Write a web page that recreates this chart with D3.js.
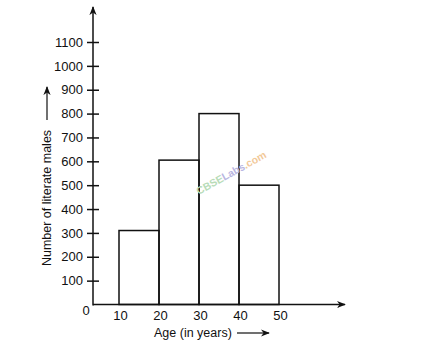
<!DOCTYPE html>
<html><head><meta charset="utf-8">
<script src="https://cdn.jsdelivr.net/npm/d3@7"></script>
<style>
body{margin:0;background:#fff;}
svg{display:block;font-family:"Liberation Sans",Arial,sans-serif;}
</style></head>
<body>
<svg id="c" width="440" height="353"></svg>
<script>
const ageEdges = [10, 20, 30, 40, 50];
const classStart = [10, 20, 30, 40];
const classEnd = [20, 30, 40, 50];
const literateMales = [310, 605, 800, 500];
const yTicks = [100, 200, 300, 400, 500, 600, 700, 800, 900, 1000, 1100];
const xTickLabels = ["10", "20", "30", "40", "50"];

const svg = d3.select("#c");
const originX = 93, originY = 304.5;
const x = d3.scaleLinear().domain([10, 50]).range([119, 279]);
const y = d3.scaleLinear().domain([0, 1100]).range([originY, 42]);

const defs = svg.append("defs");
defs.append("marker").attr("id","ah").attr("viewBox","0 0 10 10").attr("refX",9).attr("refY",5)
  .attr("markerWidth",9).attr("markerHeight",9).attr("markerUnits","userSpaceOnUse").attr("orient","auto")
  .append("path").attr("d","M0,1 L10,5 L0,9 L3,5 Z").attr("fill","#111");

// bars
const bars = classStart.map((s,i)=>({s, e: classEnd[i], v: literateMales[i]}));
svg.append("g").selectAll("rect").data(bars).join("rect")
  .attr("x", d=>x(d.s)).attr("y", d=>y(d.v))
  .attr("width", d=>x(d.e)-x(d.s)).attr("height", d=>originY - y(d.v))
  .attr("fill","none").attr("stroke","#111").attr("stroke-width",1.5);

// y axis
const yAxis = d3.axisLeft(y).tickValues(yTicks).tickFormat(d3.format("d")).tickSize(6).tickPadding(4);
const gy = svg.append("g").attr("transform",`translate(${originX},0)`).call(yAxis);
gy.select(".domain").remove();
gy.selectAll(".tick line").attr("stroke","#111").attr("stroke-width",1.5);
gy.selectAll(".tick").append("line").attr("x1",0).attr("x2",6).attr("stroke","#111").attr("stroke-width",1.5);
gy.selectAll(".tick text").attr("font-size","13px").attr("fill","#111")
  .attr("font-family","'Liberation Sans',Arial,sans-serif");

// axis lines with arrows
svg.append("line").attr("x1",originX).attr("y1",originY+1).attr("x2",originX).attr("y2",7)
  .attr("stroke","#111").attr("stroke-width",1.5).attr("marker-end","url(#ah)");
svg.append("line").attr("x1",originX).attr("y1",originY).attr("x2",345).attr("y2",originY)
  .attr("stroke","#111").attr("stroke-width",1.5).attr("marker-end","url(#ah)");

// x tick labels
svg.append("g").selectAll("text").data(ageEdges).join("text")
  .attr("x", (d)=>x(d)+1.5).attr("y", 320).attr("text-anchor","middle")
  .attr("font-size","13px").attr("fill","#111").text((d,i)=>xTickLabels[i]);

// origin label
svg.append("text").attr("x",86).attr("y",315).attr("text-anchor","middle")
  .attr("font-size","13px").attr("fill","#111").text("0");

// x title
svg.append("text").attr("x",154).attr("y",337).attr("font-size","12.5px").attr("fill","#111").text("Age (in years)");
svg.append("line").attr("x1",237).attr("y1",333).attr("x2",269).attr("y2",333)
  .attr("stroke","#111").attr("stroke-width",1.2).attr("marker-end","url(#ah)");

// y title
svg.append("text").attr("transform","translate(51,198) rotate(-90)").attr("text-anchor","middle")
  .attr("font-size","12.5px").attr("fill","#111").text("Number of literate males");
svg.append("line").attr("x1",47).attr("y1",120).attr("x2",47).attr("y2",87)
  .attr("stroke","#111").attr("stroke-width",1.2).attr("marker-end","url(#ah)");

// watermark
const wm = svg.append("text").attr("transform","translate(233,176) rotate(-29)").attr("text-anchor","middle")
  .attr("font-size","10.5px").attr("font-weight","bold");
wm.append("tspan").attr("fill","#b8dcb8").text("CBSE");
wm.append("tspan").attr("fill","#b9b6e2").text("Labs");
wm.append("tspan").attr("fill","#f2c999").text(".com");
</script>
</body></html>
